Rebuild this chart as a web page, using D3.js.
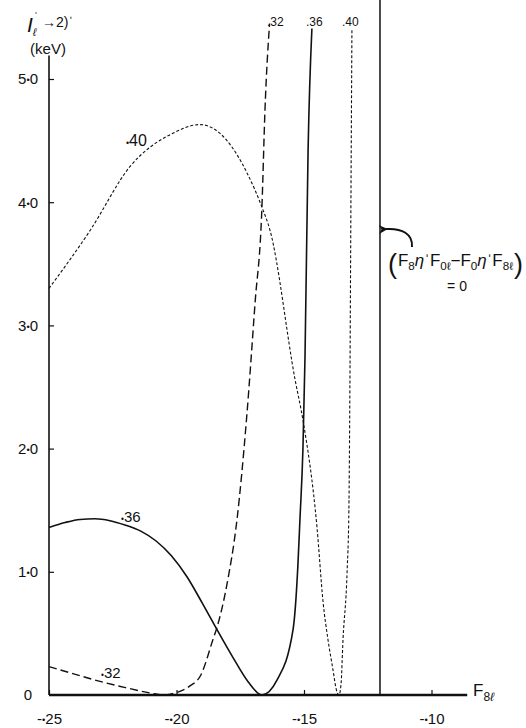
<!DOCTYPE html>
<html>
<head>
<meta charset="utf-8">
<script src="https://cdn.jsdelivr.net/npm/d3@7"></script>
<style>
  body { margin: 0; background: #fff; }
  svg { display: block; }
</style>
</head>
<body>
<div id="chart"></div>
<script>
// tick values and labels
const xTicks = [-0.25, -0.20, -0.15, -0.10];
const xTickLabels = ["-.25", "-.20", "-.15", "-.10"];
const yTicks = [0, 1, 2, 3, 4, 5];
const yTickLabels = ["0", "1.0", "2.0", "3.0", "4.0", "5.0"];

// curves: [F8l, width in keV]
const curve32 = [
  [-0.250, 0.23], [-0.240, 0.17], [-0.230, 0.11], [-0.220, 0.06], [-0.210, 0.015],
  [-0.205, 0.0], [-0.200, 0.02], [-0.195, 0.07], [-0.1905, 0.16], [-0.1857, 0.45],
  [-0.1841, 0.55], [-0.1802, 0.90], [-0.1763, 1.42], [-0.1725, 2.25], [-0.1692, 3.18],
  [-0.1665, 3.96], [-0.1653, 4.75], [-0.1635, 5.45]
];
const curve36 = [
  [-0.250, 1.36], [-0.2437, 1.40], [-0.2378, 1.425], [-0.2320, 1.43], [-0.2261, 1.415],
  [-0.2202, 1.38], [-0.2140, 1.33], [-0.2080, 1.25], [-0.2020, 1.13], [-0.1959, 0.96],
  [-0.1900, 0.75], [-0.1841, 0.53], [-0.1780, 0.31], [-0.1720, 0.11],
  [-0.1665, 0.0], [-0.1606, 0.12], [-0.1543, 0.53], [-0.1524, 1.05], [-0.1516, 1.42],
  [-0.1504, 2.01], [-0.1496, 2.75], [-0.1484, 4.42], [-0.1469, 5.41]
];
const curve40 = [
  [-0.250, 3.30], [-0.2339, 3.77], [-0.2182, 4.29], [-0.2014, 4.56], [-0.1908, 4.63],
  [-0.1802, 4.50], [-0.1724, 4.24], [-0.1665, 3.96], [-0.1633, 3.77], [-0.1535, 2.56],
  [-0.1504, 2.23], [-0.1449, 1.36], [-0.1425, 0.75], [-0.1406, 0.45], [-0.1386, 0.20],
  [-0.1374, 0.05], [-0.1363, 0.0], [-0.1355, 0.08], [-0.1347, 0.45], [-0.1331, 1.0],
  [-0.1324, 1.5], [-0.1320, 2.5], [-0.1316, 4.0], [-0.1312, 5.41]
];
const zeroLineX = -0.1202;   // (F8η'F0l - F0η'F8l) = 0
const axisEndX = -0.086;
const axisTopY = 5.19;

const width = 526, height = 728;
const font = "'Liberation Sans', Arial, sans-serif";

const svg = d3.select("#chart").append("svg")
  .attr("width", width).attr("height", height)
  .attr("viewBox", [0, 0, width, height]);

const x = d3.scaleLinear().domain([-0.25, -0.10]).range([49, 431.5]);
const y = d3.scaleLinear().domain([0, 5]).range([695, 79]);

svg.append("defs").append("marker")
  .attr("id", "arrow")
  .attr("viewBox", "0 0 10 10")
  .attr("refX", 2).attr("refY", 5)
  .attr("markerWidth", 9).attr("markerHeight", 9)
  .attr("markerUnits", "userSpaceOnUse")
  .attr("orient", "auto")
  .append("path").attr("d", "M0,5 L10,0 L7,5 L10,10 Z").attr("fill", "#111");

// old-style labels: the decimal point is a heavy raised dot
function dotLabel(sel) {
  sel.each(function () {
    const t = d3.select(this);
    const parts = t.text().split(".");
    if (parts.length < 2) return;
    t.text(null);
    t.append("tspan").text(parts[0]);
    t.append("tspan").attr("font-size", "0.62em").attr("dy", -1).text("•");
    t.append("tspan").attr("dy", 1).text(parts[1]);
  });
}

// x axis
const xAxis = d3.axisBottom(x)
  .tickValues(xTicks)
  .tickFormat((d, i) => xTickLabels[i])
  .tickSize(-5)
  .tickPadding(18);
const gx = svg.append("g").attr("transform", `translate(0,${y(0)})`).call(xAxis);
gx.select(".domain").remove();
gx.selectAll(".tick line").attr("stroke", "#111").attr("stroke-width", 1.2);
gx.selectAll(".tick text").attr("font-family", font).attr("font-size", 15).attr("fill", "#111").call(dotLabel);
svg.append("line")
  .attr("x1", x(-0.25)).attr("x2", x(axisEndX))
  .attr("y1", y(0)).attr("y2", y(0))
  .attr("stroke", "#111").attr("stroke-width", 2.6);

// y axis
const yAxis = d3.axisLeft(y)
  .tickValues(yTicks)
  .tickFormat((d, i) => yTickLabels[i])
  .tickSize(-5)
  .tickPadding(16);
const gy = svg.append("g").attr("transform", `translate(${x(-0.25)},0)`).call(yAxis);
gy.select(".domain").remove();
gy.selectAll(".tick line").attr("stroke", "#111").attr("stroke-width", 1.2);
gy.selectAll(".tick text").attr("font-family", font).attr("font-size", 15).attr("fill", "#111")
  .attr("text-anchor", "middle").attr("x", -21).call(dotLabel);
gy.selectAll(".tick").filter(d => d === 0).select("line").remove();
svg.append("line")
  .attr("x1", x(-0.25)).attr("x2", x(-0.25))
  .attr("y1", y(0)).attr("y2", y(axisTopY))
  .attr("stroke", "#111").attr("stroke-width", 1.6);

// vertical line where the determinant vanishes
svg.append("line")
  .attr("x1", x(zeroLineX)).attr("x2", x(zeroLineX))
  .attr("y1", y(0)).attr("y2", 0)
  .attr("stroke", "#111").attr("stroke-width", 1.5);

// curves
const line = d3.line().x(d => x(d[0])).y(d => y(d[1])).curve(d3.curveMonotoneX);
const series = [
  { data: curve32, dash: "8,4", w: 1.4 },
  { data: curve36, dash: null, w: 1.6 },
  { data: curve40, dash: "3,2", w: 1.1 }
];
svg.selectAll("path.curve").data(series).join("path")
  .attr("class", "curve")
  .attr("d", d => line(d.data))
  .attr("fill", "none")
  .attr("stroke", "#111")
  .attr("stroke-width", d => d.w)
  .attr("stroke-dasharray", d => d.dash);

// curve labels
const labels = [
  { t: "•40", x: 126, y: 146, s: 16 },
  { t: "•36", x: 121, y: 522, s: 15 },
  { t: "•32", x: 101, y: 678, s: 15 },
  { t: ".32", x: 267, y: 26, s: 12 },
  { t: ".36", x: 306, y: 26, s: 12 },
  { t: ".40", x: 342, y: 26, s: 12 }
];
const cl = svg.selectAll("text.clabel").data(labels).join("text")
  .attr("class", "clabel")
  .attr("x", d => d.x).attr("y", d => d.y)
  .attr("font-family", font).attr("font-size", d => d.s).attr("fill", "#111");
cl.each(function (d) {
  const t = d3.select(this);
  if (d.t[0] === "•") {
    t.append("tspan").attr("font-size", "0.55em").text("•");
    t.append("tspan").text(d.t.slice(1));
  } else {
    t.text(d.t);
  }
});

// y axis title
const yt = svg.append("g").attr("font-family", font).attr("fill", "#111");
yt.append("text").attr("x", 27).attr("y", 32).attr("font-size", 21).attr("font-style", "italic").text("I");
yt.append("text").attr("x", 34).attr("y", 21).attr("font-size", 12).text("ˈ");
yt.append("text").attr("x", 33).attr("y", 36).attr("font-size", 11).attr("font-style", "italic").text("ℓ");
yt.append("text").attr("x", 42).attr("y", 27).attr("font-size", 14).text("→2)ˈ");
yt.append("text").attr("x", 48).attr("y", 54).attr("font-size", 15).attr("text-anchor", "middle").text("(keV)");

// x axis title
const xt = svg.append("text").attr("x", 473).attr("y", 696).attr("font-family", font).attr("font-size", 17).attr("fill", "#111");
xt.append("tspan").text("F");
xt.append("tspan").attr("font-size", 12).attr("dy", 5).text("8");
xt.append("tspan").attr("font-size", 12).attr("font-style", "italic").text("ℓ");

// annotation
svg.append("path")
  .attr("d", "M412,247 C413,234 402,228 386,229")
  .attr("fill", "none").attr("stroke", "#111").attr("stroke-width", 2)
  .attr("marker-end", "url(#arrow)");
svg.append("text").attr("x", 388).attr("y", 273).attr("font-family", font)
  .attr("font-size", 27).attr("font-weight", 300).attr("fill", "#111").text("(");
svg.append("text").attr("x", 514).attr("y", 273).attr("font-family", font)
  .attr("font-size", 27).attr("font-weight", 300).attr("fill", "#111").text(")");
const ann = svg.append("text").attr("x", 398).attr("y", 266)
  .attr("font-family", font).attr("font-size", 16).attr("fill", "#111");
const parts = [
  ["F", 0, null], ["8", 4, 11], ["η", -4, null], ["ˈ", 0, null],
  ["F", 0, null], ["0ℓ", 4, 11], ["−", -4, null],
  ["F", 0, null], ["0", 4, 11], ["η", -4, null], ["ˈ", 0, null],
  ["F", 0, null], ["8ℓ", 4, 11]
];
parts.forEach(p => {
  const ts = ann.append("tspan").attr("dy", p[1]).text(p[0]);
  if (p[2]) ts.attr("font-size", p[2]);
  if (p[0] === "η") ts.attr("font-style", "italic");
});
ann.attr("textLength", 115).attr("lengthAdjust", "spacingAndGlyphs");
svg.append("text").attr("x", 457).attr("y", 291).attr("text-anchor", "middle")
  .attr("font-family", font).attr("font-size", 14).attr("fill", "#111").text("= 0");
</script>
</body>
</html>
